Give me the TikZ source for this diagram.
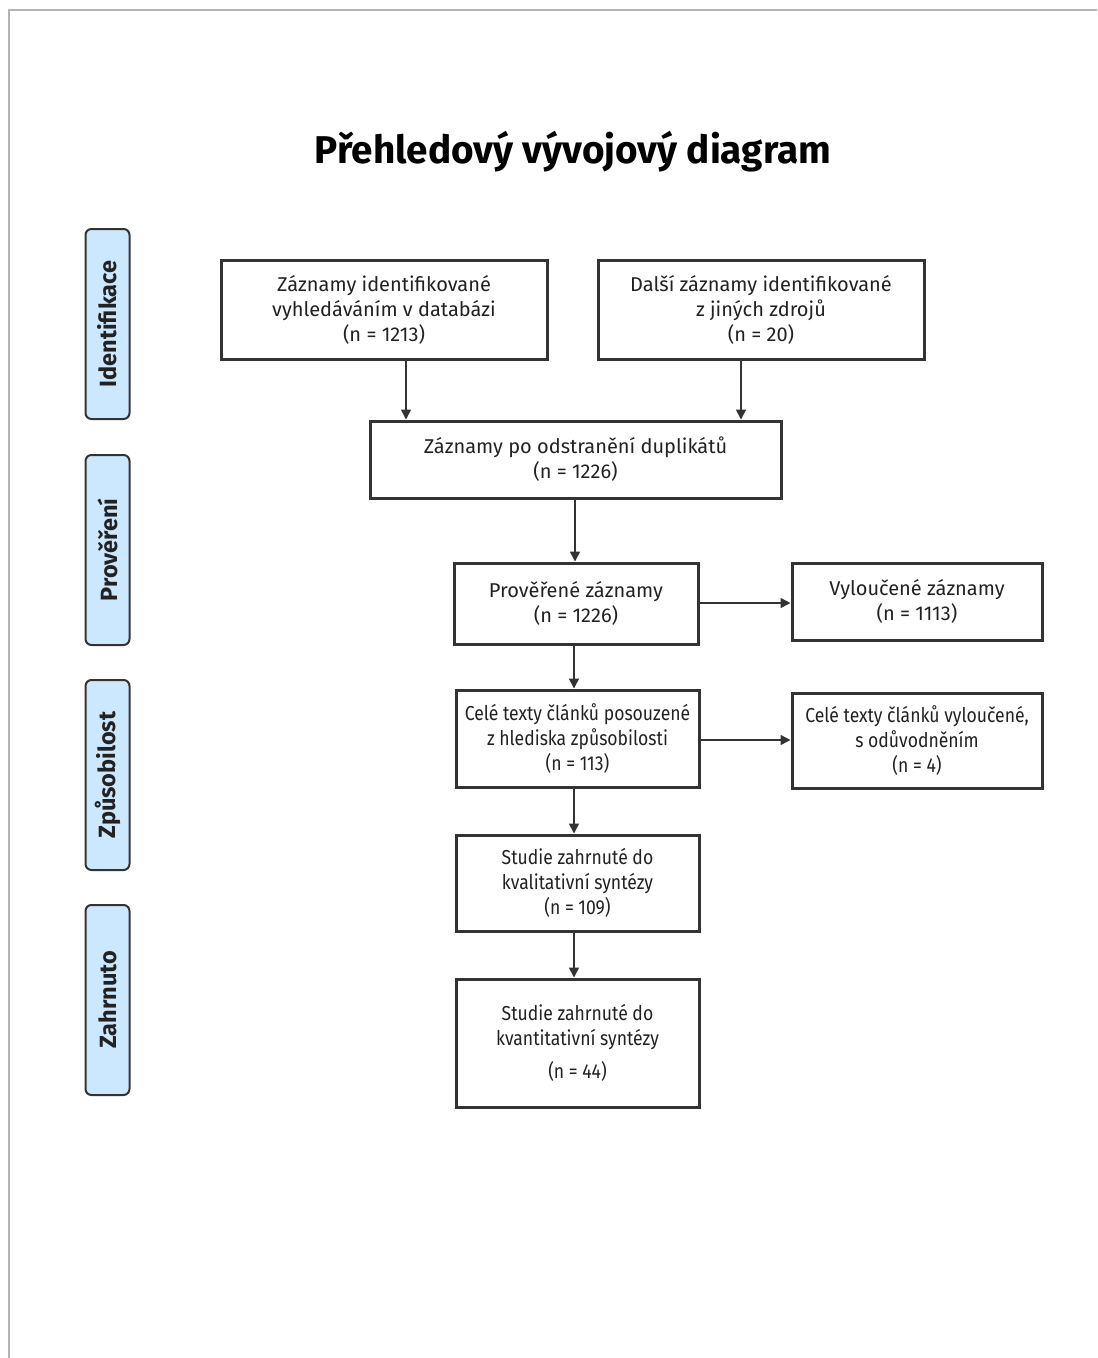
\documentclass[tikz,border=0pt]{standalone}
\usepackage{fontspec}
\setmainfont{Fira Sans}
\newfontfamily\condfont{Fira Sans}[FakeStretch=0.87]
\usetikzlibrary{arrows.meta}
\definecolor{boxline}{HTML}{333333}
\definecolor{sidefill}{HTML}{CCE8FF}
\definecolor{framegray}{HTML}{B4B4B4}
\definecolor{txt}{HTML}{222222}
\begin{document}
\begin{tikzpicture}[x=1pt,y=-1pt,
  flowbox/.style={draw=boxline,line width=3pt,fill=white,align=center,inner sep=0pt,
    text=txt,font=\fontsize{20}{25}\selectfont},
  condbox/.style={flowbox,font=\condfont\fontsize{20.2}{25}\selectfont},
  sidebox/.style={draw=boxline,line width=2pt,fill=sidefill,rounded corners=6pt,
    minimum width=190pt,minimum height=44pt,rotate=90,inner sep=0pt,
    font=\bfseries\fontsize{23.5}{25}\selectfont,text=txt},
  arr/.style={draw=boxline,line width=1.5pt,-{Triangle[length=10pt,width=10pt]}}]
\useasboundingbox (0,0) rectangle (1098,1358);
\fill[white] (0,0) rectangle (1098,1358);
\draw[framegray,line width=2pt] (9,1358) -- (9,10) -- (1097,10);

\node[font=\bfseries\fontsize{38.7}{44}\selectfont,text=black] (title) at (573,152) {Přehledový vývojový diagram};

\node[sidebox] (s1) at (107.5,324) {Identifikace};
\node[sidebox] (s2) at (107.5,550) {Prověření};
\node[sidebox] (s3) at (107.5,775) {Způsobilost};
\node[sidebox] (s4) at (107.5,1000) {Zahrnuto};

\node[flowbox,minimum width=326pt,minimum height=99pt] (A) at (384,309.5)
  {Záznamy identifikované\\vyhledáváním v databázi\\(n = 1213)};
\node[flowbox,minimum width=326pt,minimum height=99pt] (B) at (761,309.5)
  {Další záznamy identifikované\\z jiných zdrojů\\(n = 20)};
\node[flowbox,minimum width=411pt,minimum height=77pt] (C) at (575.5,459.5)
  {Záznamy po odstranění duplikátů\\(n = 1226)};
\node[flowbox,minimum width=244pt,minimum height=81pt] (D) at (576,603.5)
  {Prověřené záznamy\\(n = 1226)};
\node[flowbox,minimum width=250pt,minimum height=77pt] (E) at (917,601.5)
  {Vyloučené záznamy\\(n = 1113)};
\node[condbox,minimum width=243pt,minimum height=97pt] (F) at (577.5,738.5)
  {Celé texty článků posouzené\\z hlediska způsobilosti\\(n = 113)};
\node[condbox,minimum width=250pt,minimum height=95pt] (G) at (917,740.5)
  {Celé texty článků vyloučené,\\s odůvodněním\\(n = 4)};
\node[condbox,minimum width=243pt,minimum height=96pt] (H) at (577.5,883)
  {Studie zahrnuté do\\kvalitativní syntézy\\(n = 109)};
\node[condbox,minimum width=243pt,minimum height=128pt] (I) at (577.5,1043)
  {Studie zahrnuté do\\kvantitativní syntézy\\[8pt](n = 44)};

\draw[arr] (A.south -| 406,0) -- (C.north -| 406,0);
\draw[arr] (B.south -| 741,0) -- (C.north -| 741,0);
\draw[arr] (C.south -| 575,0) -- (D.north -| 575,0);
\draw[arr] (D.east |- 0,603) -- (E.west |- 0,603);
\draw[arr] (D.south -| 574,0) -- (F.north -| 574,0);
\draw[arr] (F.east |- 0,740) -- (G.west |- 0,740);
\draw[arr] (F.south -| 574,0) -- (H.north -| 574,0);
\draw[arr] (H.south -| 574,0) -- (I.north -| 574,0);
\end{tikzpicture}
\end{document}
